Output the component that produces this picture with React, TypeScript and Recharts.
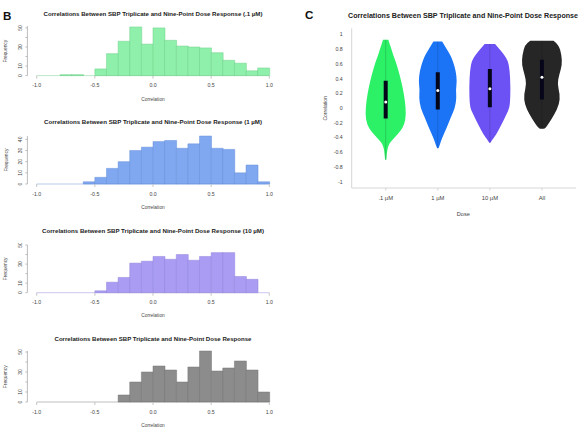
import React from "react";
import {
  BarChart,
  Bar,
  XAxis,
  YAxis,
  ComposedChart,
  Line,
  Cell,
  ReferenceLine,
} from "recharts";

// Histogram bins: 0.1 wide, left edges from -1.0 to 0.9
const BIN_STARTS = [
  -1.0, -0.9, -0.8, -0.7, -0.6, -0.5, -0.4, -0.3, -0.2, -0.1, 0.0, 0.1, 0.2,
  0.3, 0.4, 0.5, 0.6, 0.7, 0.8, 0.9,
];
const BIN_WIDTH = 0.1;
const COUNTS_01 = [0, 0, 1, 1, 0, 7, 23, 36, 51, 33, 50, 37, 31, 30, 29, 24, 16, 13, 5, 8];
const COUNTS_1 = [0, 0, 0, 0, 2, 6, 14, 20, 30, 33, 38, 39, 32, 36, 43, 32, 31, 10, 17, 2];
const COUNTS_10 = [0, 0, 0, 0, 0, 2, 11, 16, 31, 33, 38, 35, 40, 34, 38, 42, 42, 17, 14, 0];
const COUNTS_ALL = [0, 0, 0, 0, 0, 0, 0, 7, 20, 30, 36, 32, 20, 35, 51, 31, 34, 41, 32, 10];
const HIST_X_TICKS = [-1, -0.5, 0, 0.5, 1];
const FREQ_TICKS_50 = [0, 10, 20, 30, 40, 50];
const FREQ_TICKS_40 = [0, 10, 20, 30, 40];
const FREQ_LABELS_SPARSE = [0, 10, 30, 50];
const FREQ_LABELS_FULL = [0, 10, 20, 30, 40];

// Violin panel
const DOSES = [".1 µM", "1 µM", "10 µM", "All"];
const VIOLIN_MIN = [-0.7, -0.545, -0.47, -0.28];
const VIOLIN_MAX = [0.93, 0.905, 0.87, 0.915];
const Q1 = [-0.14, -0.018, 0.013, 0.116];
const MEDIAN = [0.085, 0.238, 0.265, 0.42];
const Q3 = [0.373, 0.486, 0.53, 0.657];
const CORR_TICKS = [-1, -0.8, -0.6, -0.4, -0.2, 0, 0.2, 0.4, 0.6, 0.8, 1];
// [correlation, relative half-width]
const DENSITY_01 = [
  [0.93, 0.13], [0.87, 0.19], [0.815, 0.26], [0.72, 0.36], [0.635, 0.48],
  [0.455, 0.67], [0.275, 0.82], [0.095, 0.93], [-0.085, 0.98], [-0.22, 0.9],
  [-0.31, 0.71], [-0.4, 0.43], [-0.47, 0.19], [-0.535, 0.1], [-0.6, 0.06],
  [-0.7, 0.03],
];
const DENSITY_1 = [
  [0.905, 0.21], [0.815, 0.4], [0.725, 0.6], [0.635, 0.73], [0.5, 0.87],
  [0.365, 0.92], [0.25, 0.87], [0.14, 0.9], [0.005, 0.83], [-0.13, 0.62],
  [-0.265, 0.43], [-0.4, 0.21], [-0.515, 0.08], [-0.545, 0.03],
];
const DENSITY_10 = [
  [0.87, 0.25], [0.77, 0.56], [0.68, 0.8], [0.59, 0.92], [0.41, 0.98],
  [0.185, 0.99], [0.005, 0.95], [-0.085, 0.8], [-0.22, 0.56], [-0.355, 0.32],
  [-0.445, 0.08], [-0.47, 0.03],
];
const DENSITY_ALL = [
  [0.915, 0.56], [0.86, 0.81], [0.725, 0.94], [0.59, 0.97], [0.455, 0.83],
  [0.32, 0.74], [0.185, 0.87], [0.05, 0.83], [-0.085, 0.6], [-0.2, 0.34],
  [-0.265, 0.19], [-0.28, 0.1],
];
const DENSITIES = [DENSITY_01, DENSITY_1, DENSITY_10, DENSITY_ALL];
const VIOLIN_COLORS = ["#2cf066", "#1b74f6", "#6c52f4", "#262626"];

const FONT = "'Liberation Sans', Arial, sans-serif";
const TITLE = "Correlations Between SBP Triplicate and Nine-Point Dose Response";

const HIST_W = 290;
const HIST_PLOT_RIGHT = 278.6;
const HIST_Y_AXIS_X = 27.4;
const HIST_PAD_X = 9.3;
const HIST_X_AXIS_H = 26;

const HISTS = [
  { title: TITLE + " (.1 µM)", counts: COUNTS_01, fill: "#8ef0aa", stroke: "#72d08c", yMax: 52, ticks: FREQ_TICKS_50, labels: FREQ_LABELS_SPARSE, top: 26.4, base: 76, titleY: 14, titleW: 219 },
  { title: TITLE + " (1 µM)", counts: COUNTS_1, fill: "#80a8f0", stroke: "#6890d8", yMax: 43, ticks: FREQ_TICKS_40, labels: FREQ_LABELS_FULL, top: 136, base: 184, titleY: 122.3, titleW: 218 },
  { title: TITLE + " (10 µM)", counts: COUNTS_10, fill: "#a99cf2", stroke: "#9386dc", yMax: 50, ticks: FREQ_TICKS_50, labels: FREQ_LABELS_SPARSE, top: 245, base: 292.7, titleY: 230.7, titleW: 222 },
  { title: TITLE, counts: COUNTS_ALL, fill: "#8c8c8c", stroke: "#767676", yMax: 51, ticks: FREQ_TICKS_50, labels: FREQ_LABELS_SPARSE, top: 351.3, base: 402.3, titleY: 339.3, titleW: 197 },
];

const FreqTick = (labels: number[]) => (props: any) => {
  const { x, y, payload } = props;
  if (!labels.includes(payload.value)) return null;
  return (
    <text
      x={x}
      y={y}
      transform={`rotate(-90 ${x} ${y})`}
      textAnchor="middle"
      fontSize={5}
      fill="#444"
    >
      {payload.value}
    </text>
  );
};

function Histogram({ h }: { h: (typeof HISTS)[number] }) {
  const rows = BIN_STARTS.map((b, i) => ({
    bin: b,
    mid: b + BIN_WIDTH / 2,
    count: h.counts[i],
  }));
  const chartTop = h.top - 2;
  const height = h.base - chartTop + HIST_X_AXIS_H;
  return (
    <div style={{ position: "absolute", left: 0, top: chartTop }}>
      <BarChart
        width={HIST_W}
        height={height}
        data={rows}
        margin={{ top: 2, right: HIST_W - HIST_PLOT_RIGHT, bottom: 0, left: 0 }}
        barCategoryGap={0}
        barGap={0}
      >
        <XAxis
          xAxisId="bin"
          dataKey="bin"
          hide
          height={0}
          padding={{ left: HIST_PAD_X, right: HIST_PAD_X }}
        />
        <XAxis
          xAxisId="num"
          dataKey="mid"
          type="number"
          domain={[-1, 1]}
          ticks={HIST_X_TICKS}
          padding={{ left: HIST_PAD_X, right: HIST_PAD_X }}
          height={HIST_X_AXIS_H}
          axisLine={false}
          tickLine={{ stroke: "#c4c4c4" }}
          tickSize={3}
          tickMargin={5}
          tick={{ fontSize: 5.2, fill: "#444" }}
          tickFormatter={(v: number) => v.toFixed(1)}
          allowDataOverflow
        />
        <YAxis
          type="number"
          domain={[0, h.yMax]}
          ticks={h.ticks}
          width={HIST_Y_AXIS_X}
          stroke="#bdbdbd"
          tickSize={2}
          tickMargin={3}
          tick={FreqTick(h.labels)}
          interval={0}
        />
        {/* empty bins show as a flat outline along the baseline */}
        <ReferenceLine
          xAxisId="num"
          segment={[
            { x: HIST_X_TICKS[0], y: 0 },
            { x: HIST_X_TICKS[HIST_X_TICKS.length - 1], y: 0 },
          ]}
          stroke={h.stroke}
          strokeOpacity={0.6}
          strokeWidth={0.8}
        />
        <Bar
          xAxisId="bin"
          dataKey="count"
          fill={h.fill}
          stroke={h.stroke}
          strokeWidth={0.5}
          isAnimationActive={false}
        />
      </BarChart>
    </div>
  );
}

// smooth polyline through midpoints using quadratic segments
function smoothSide(pts: number[][], first: boolean) {
  let d = `${first ? "M" : "L"}${pts[0][0]},${pts[0][1]}`;
  for (let i = 1; i < pts.length - 1; i++) {
    const mx = (pts[i][0] + pts[i + 1][0]) / 2;
    const my = (pts[i][1] + pts[i + 1][1]) / 2;
    d += ` Q${pts[i][0]},${pts[i][1]} ${mx},${my}`;
  }
  const last = pts[pts.length - 1];
  d += ` L${last[0]},${last[1]}`;
  return d;
}

const ViolinShape = (props: any) => {
  const { x, y, width, height, payload, fill } = props;
  const top = Math.min(y, y + height);
  const span = Math.abs(height);
  const [lo, hi] = payload.extent;
  const cx = x + width / 2;
  const s = width * 0.4;
  const toY = (v: number) => top + ((hi - v) / (hi - lo)) * span;
  const dens: number[][] = payload.density;
  const right = dens.map(([v, d]) => [cx + d * s, toY(v)]);
  const left = [...dens].reverse().map(([v, d]) => [cx - d * s, toY(v)]);
  const path = smoothSide(right, true) + " " + smoothSide(left, false) + " Z";
  return (
    <g>
      <path d={path} fill={fill} stroke="none" />
      <line x1={cx} x2={cx} y1={top} y2={top + span} stroke="rgba(0,0,0,0.3)" strokeWidth={0.5} />
    </g>
  );
};

const MedianDot = (props: any) => {
  const { cx, cy } = props;
  return <circle cx={cx} cy={cy} r={1.5} fill="#ffffff" />;
};

function ViolinPanel() {
  const rows = DOSES.map((dose, i) => ({
    dose,
    extent: [VIOLIN_MIN[i], VIOLIN_MAX[i]],
    iqr: [Q1[i], Q3[i]],
    median: MEDIAN[i],
    density: DENSITIES[i],
  }));
  return (
    <div style={{ position: "absolute", left: 300, top: 0 }}>
      <ComposedChart
        width={286}
        height={230}
        data={rows}
        margin={{ top: 28.3, right: 10, bottom: 22, left: 0 }}
        barCategoryGap={0}
        barGap={0}
      >
        <XAxis
          xAxisId="v"
          dataKey="dose"
          padding={{ left: 8, right: 8 }}
          height={20}
          stroke="#d6d6d6"
          tickSize={2.5}
          tickMargin={5}
          tick={{ fontSize: 5.8, fill: "#444" }}
          interval={0}
        />
        <XAxis xAxisId="box" dataKey="dose" hide height={0} padding={{ left: 8, right: 8 }} />
        <YAxis
          type="number"
          domain={[-1.084, 1.084]}
          ticks={CORR_TICKS}
          width={51.7}
          stroke="#d6d6d6"
          tickLine={false}
          tickSize={0}
          tickMargin={9}
          tick={{ fontSize: 5.2, fill: "#444" }}
          tickFormatter={(v: number) => `${+v.toFixed(1)}`}
          interval={0}
          allowDataOverflow
        />
        <Bar xAxisId="v" dataKey="extent" shape={ViolinShape} isAnimationActive={false}>
          {rows.map((r, i) => (
            <Cell key={r.dose} fill={VIOLIN_COLORS[i]} />
          ))}
        </Bar>
        <Bar xAxisId="box" dataKey="iqr" barSize={4} fill="#06061a" isAnimationActive={false} />
        <Line
          xAxisId="v"
          dataKey="median"
          stroke="none"
          dot={MedianDot}
          activeDot={false}
          isAnimationActive={false}
        />
      </ComposedChart>
    </div>
  );
}

export default function App() {
  return (
    <div
      style={{
        position: "absolute",
        left: 0,
        top: 0,
        width: 586,
        height: 430,
        background: "#ffffff",
        fontFamily: FONT,
        overflow: "hidden",
      }}
    >
      {HISTS.map((h) => (
        <Histogram key={h.title} h={h} />
      ))}
      <ViolinPanel />
      <svg
        width={586}
        height={430}
        style={{ position: "absolute", left: 0, top: 0, pointerEvents: "none" }}
        fontFamily={FONT}
      >
        <text x={3} y={20.2} fontSize={11.6} fontWeight="bold" fill="#111">B</text>
        <text x={305} y={19.4} fontSize={11.6} fontWeight="bold" fill="#111">C</text>
        {HISTS.map((h) => (
          <g key={h.title}>
            <text
              x={153}
              y={h.titleY}
              textAnchor="middle"
              dominantBaseline="central"
              fontSize={6}
              fontWeight="bold"
              fill="#222"
              textLength={h.titleW}
              lengthAdjust="spacingAndGlyphs"
            >
              {h.title}
            </text>
            <text
              x={6}
              y={(h.top + h.base) / 2}
              transform={`rotate(-90 6 ${(h.top + h.base) / 2})`}
              textAnchor="middle"
              dominantBaseline="central"
              fontSize={4.8}
              fill="#444"
            >
              Frequency
            </text>
            <text
              x={153}
              y={h.base + 23}
              textAnchor="middle"
              dominantBaseline="central"
              fontSize={4.8}
              fill="#444"
            >
              Correlation
            </text>
          </g>
        ))}
        <text
          x={463}
          y={15}
          textAnchor="middle"
          dominantBaseline="central"
          fontSize={6.6}
          fontWeight="bold"
          fill="#222"
          textLength={230}
          lengthAdjust="spacingAndGlyphs"
        >
          {TITLE}
        </text>
        <text
          x={325}
          y={108.3}
          transform="rotate(-90 325 108.3)"
          textAnchor="middle"
          dominantBaseline="central"
          fontSize={5}
          fill="#444"
        >
          Correlation
        </text>
        <text x={463.3} y={213.7} textAnchor="middle" dominantBaseline="central" fontSize={5.6} fill="#444">
          Dose
        </text>
      </svg>
    </div>
  );
}
